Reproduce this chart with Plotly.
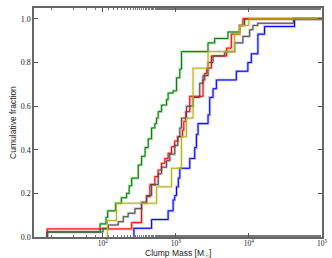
import plotly.graph_objects as go

# Clump masses (Msun) and cumulative fractions
green_mass = [17.4, 92, 111, 117, 150, 180, 212, 230, 249, 306, 340, 380, 419, 466, 517, 545, 574, 638, 747, 785, 919, 1023, 1135, 1196, 2757, 3404, 5170, 7470, 8730, 1e5]
green_frac = [0.023, 0.06, 0.09, 0.12, 0.155, 0.18, 0.20, 0.235, 0.27, 0.33, 0.37, 0.41, 0.45, 0.50, 0.52, 0.545, 0.575, 0.605, 0.63, 0.66, 0.67, 0.73, 0.77, 0.85, 0.89, 0.91, 0.94, 0.97, 1.0, 1.0]

blue_mass = [267, 466, 785, 919, 968, 1023, 1082, 1135, 1552, 1815, 1914, 2014, 2761, 2910, 3229, 3590, 6730, 9680, 10790, 13280, 16370, 42100, 1e5]
blue_frac = [0.04, 0.08, 0.12, 0.17, 0.19, 0.23, 0.27, 0.315, 0.36, 0.41, 0.47, 0.52, 0.56, 0.64, 0.68, 0.72, 0.76, 0.80, 0.84, 0.93, 0.965, 1.0, 1.0]

red_mass = [17.4, 249, 340, 398, 442, 517, 574, 638, 707, 785, 873, 968, 1064, 1233, 1285, 1368, 1552, 2355, 2487, 2651, 3070, 4960, 5750, 7470, 8280, 1e5]
red_frac = [0.037, 0.066, 0.155, 0.185, 0.24, 0.277, 0.307, 0.338, 0.36, 0.384, 0.414, 0.44, 0.46, 0.49, 0.53, 0.575, 0.645, 0.72, 0.75, 0.775, 0.83, 0.866, 0.93, 0.97, 1.0, 1.0]

gray_mass = [17.4, 101, 119, 163, 191, 223, 276, 340, 398, 466, 574, 638, 747, 828, 968, 1064, 1135, 1196, 1400, 1721, 2124, 2355, 2761, 3229, 4660, 6380, 8280, 10230, 11350, 13200, 40700, 1e5]
gray_frac = [0.023, 0.04, 0.055, 0.07, 0.093, 0.109, 0.13, 0.16, 0.19, 0.24, 0.29, 0.32, 0.35, 0.38, 0.42, 0.46, 0.50, 0.545, 0.60, 0.64, 0.705, 0.74, 0.80, 0.83, 0.85, 0.89, 0.92, 0.95, 0.97, 0.98, 1.0, 1.0]

olive_mass = [116, 154, 545, 873, 1196, 1400, 1721, 2761, 6380, 7470, 10000, 1e5]
olive_frac = [0.075, 0.155, 0.23, 0.315, 0.46, 0.545, 0.774, 0.85, 0.93, 0.97, 1.0, 1.0]

series = [
    (green_mass, green_frac, "#008000"),
    (blue_mass, blue_frac, "#0000ff"),
    (red_mass, red_frac, "#ff0000"),
    (gray_mass, gray_frac, "#4d4d4d"),
    (olive_mass, olive_frac, "#b5b51a"),
]

x_ticks = [100, 1000, 10000, 100000]
x_ticktext = ["10<sup>2</sup>", "10<sup>3</sup>", "10<sup>4</sup>", "10<sup>5</sup>"]
y_ticks = [0.0, 0.2, 0.4, 0.6, 0.8, 1.0]
y_ticktext = ["0.0", "0.2", "0.4", "0.6", "0.8", "1.0"]

fig = go.Figure()
for m, f, c in series:
    xs = [m[0]] + list(m)
    ys = [0.0] + list(f)
    fig.add_trace(go.Scatter(x=xs, y=ys, mode="lines", line=dict(color=c, width=2.6, shape="hv"),
                             opacity=0.3, showlegend=False, hoverinfo="skip"))
    fig.add_trace(go.Scatter(x=xs, y=ys, mode="lines", line=dict(color=c, width=1.0, shape="hv"),
                             showlegend=False))

serif = "Liberation Serif, DejaVu Serif, serif"
sans = "Liberation Sans, Arial, sans-serif"

fig.update_layout(
    width=332, height=258,
    margin=dict(l=34, r=10, t=8, b=21),
    paper_bgcolor="white", plot_bgcolor="white",
    xaxis=dict(
        type="log", range=[1.06, 5.0], automargin=False,
        tickvals=x_ticks, ticktext=x_ticktext,
        ticks="inside", ticklen=4, tickcolor="#555", tickwidth=1,
        ticklabelstandoff=-2,
        showline=True, linecolor="#666", linewidth=1.5, mirror="allticks",
        showgrid=False, zeroline=False,
        minor=dict(ticks="inside", ticklen=2, tickcolor="#777", showgrid=False),
        tickfont=dict(family=serif, size=7.5, color="#222"),
    ),
    yaxis=dict(
        range=[0, 1.05], automargin=False,
        tickvals=y_ticks, ticktext=y_ticktext,
        ticks="inside", ticklen=4, tickcolor="#555", tickwidth=1,
        showline=True, linecolor="#666", linewidth=1.5, mirror="allticks",
        showgrid=False, zeroline=False,
        tickfont=dict(family=serif, size=8, color="#222"),
    ),
    annotations=[
        dict(text="Clump Mass [M<sub>☉</sub>]", xref="paper", yref="paper", x=0.5, y=-0.07,
             xanchor="center", yanchor="middle", showarrow=False,
             font=dict(family=sans, size=8.5, color="#222")),
        dict(text="Cumulative fraction", xref="paper", yref="paper", x=-0.075, y=0.5,
             xanchor="center", yanchor="middle", textangle=-90, showarrow=False,
             font=dict(family=sans, size=8.5, color="#222")),
    ],
)

fig.write_html("out.html", config={"displayModeBar": False},
               post_script="document.body.style.margin='0';document.body.style.padding='0';")
